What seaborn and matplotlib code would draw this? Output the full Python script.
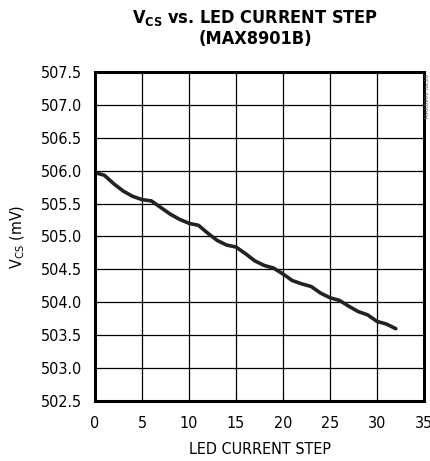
import pandas as pd
import matplotlib
matplotlib.use("Agg")
import matplotlib.pyplot as plt
import seaborn as sns

# LED current step vs Vcs
steps = list(range(0, 33))
vcs_mv = [505.97, 505.93, 505.80, 505.69, 505.61, 505.56, 505.54, 505.44, 505.34,
          505.26, 505.20, 505.17, 505.05, 504.94, 504.87, 504.84, 504.74, 504.63,
          504.56, 504.52, 504.43, 504.33, 504.28, 504.24, 504.14, 504.07, 504.03,
          503.94, 503.86, 503.81, 503.71, 503.67, 503.60]
x_ticks = [0, 5, 10, 15, 20, 25, 30, 35]
y_ticks = [502.5, 503.0, 503.5, 504.0, 504.5, 505.0, 505.5, 506.0, 506.5, 507.0, 507.5]

df = pd.DataFrame({"step": steps, "vcs": vcs_mv})

sns.set_style("white")
plt.rcParams['font.family'] = ['DejaVu Sans']
plt.rcParams['font.stretch'] = 'condensed'
plt.rcParams['text.color'] = 'black'
plt.rcParams['axes.labelcolor'] = 'black'
plt.rcParams['xtick.color'] = 'black'
plt.rcParams['ytick.color'] = 'black'

fig = plt.figure(figsize=(4.3, 4.61), dpi=100)
ax = fig.add_axes([0.221, 0.130, 0.765, 0.714])

sns.lineplot(data=df, x="step", y="vcs", ax=ax, color="#222222", linewidth=2.6)

ax.set_xlim(0, 35)
ax.set_ylim(502.5, 507.5)
ax.set_xticks(x_ticks)
ax.set_yticks(y_ticks)
ax.set_yticklabels([f"{v:.1f}" for v in y_ticks])
ax.grid(True, color="black", linewidth=0.9)
ax.tick_params(axis="y", length=0, labelsize=11.5, pad=9)
ax.tick_params(axis="x", length=0, labelsize=11.5, pad=11)
for s in ax.spines.values():
    s.set_linewidth(2.2)
    s.set_color("black")

ax.set_xlabel("LED CURRENT STEP", fontsize=11.5, labelpad=8)
ax.set_ylabel("V$_{\\mathregular{CS}}$ (mV)", fontsize=11.5, labelpad=10)

fig.text(0.593, 0.982, "V$_{\\mathregular{CS}}$ vs. LED CURRENT STEP\n(MAX8901B)",
         ha="center", va="top", fontsize=13, fontweight="bold", linespacing=1.1)
fig.text(0.988, 0.84, "MAX8901 toc10", rotation=90, ha="left", va="top",
         fontsize=4.5, color="#555555")

plt.savefig("out.png", dpi=100)
